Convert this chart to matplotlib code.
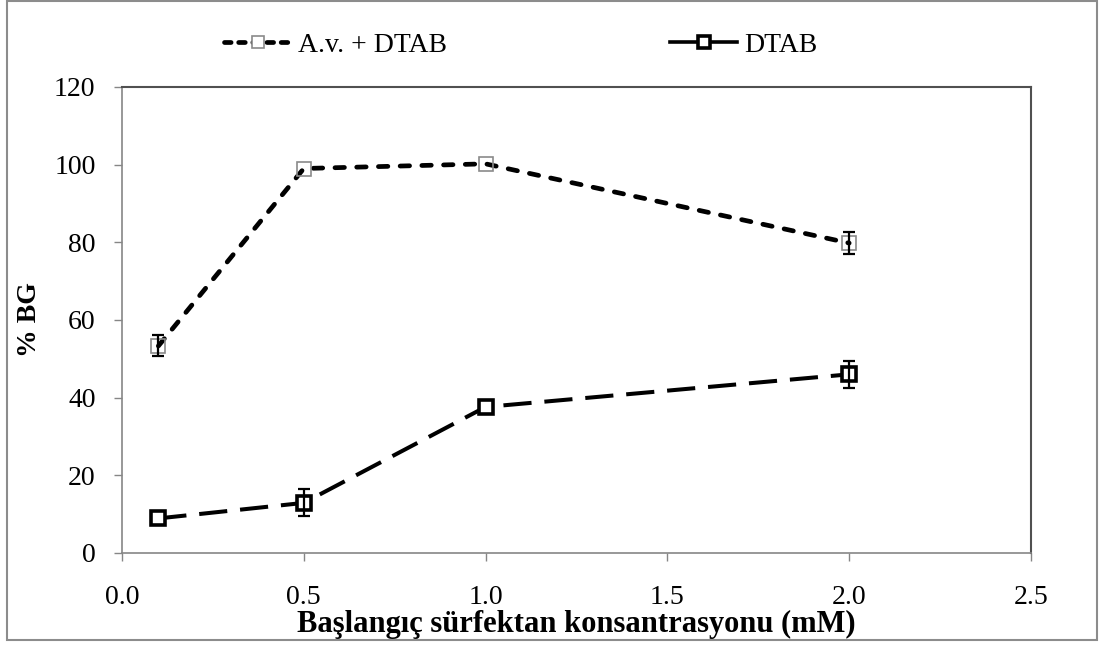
import matplotlib
matplotlib.use("Agg")
import matplotlib.pyplot as plt
from matplotlib.lines import Line2D
from matplotlib.patches import Rectangle
from matplotlib.ticker import FormatStrFormatter

# concentration (mM)
conc = [0.1, 0.5, 1.0, 2.0]
# % BG, A.v. + DTAB
av_dtab = [53.3, 99.0, 100.2, 79.8]
av_dtab_err = [2.7, 0.0, 0.0, 2.8]
# % BG, DTAB alone
dtab = [8.9, 12.9, 37.6, 46.0]
dtab_err = [0.0, 3.5, 0.0, 3.4]

labels = ["A.v. + DTAB", "DTAB"]

plt.rcParams["font.family"] = ["Liberation Serif", "DejaVu Serif"]


def draw_err(ax, xs, ys, errs):
    # only the points that show a visible bar
    pts = [(x, y, e) for x, y, e in zip(xs, ys, errs) if e > 0]
    ax.errorbar([p[0] for p in pts], [p[1] for p in pts],
                yerr=[p[2] for p in pts], fmt="none", ecolor="black",
                elinewidth=1.6, capsize=4.5, capthick=1.6, zorder=4)


fig = plt.figure(figsize=(11.01, 6.46), dpi=100)
ax = fig.add_axes([0.1108, 0.144, 0.8256, 0.7214])

# series A: short round dashes, grey open squares
ax.plot(conc, av_dtab, color="black", lw=3.4, dashes=(2.0, 2.6),
        dash_capstyle="round", zorder=2)
ax.plot(conc, av_dtab, ls="none", marker="s", ms=9.5, mfc="none",
        mec="#8a8a8a", mew=1.2, zorder=3)
draw_err(ax, conc, av_dtab, av_dtab_err)

# series B: long dashes, black open squares
ax.plot(conc, dtab, color="black", lw=2.9, dashes=(7.0, 3.2), zorder=2)
ax.plot(conc, dtab, ls="none", marker="s", ms=9.5, mfc="white",
        mec="black", mew=2.6, zorder=3)
draw_err(ax, conc, dtab, dtab_err)

ax.set_xlim(0, 2.5)
ax.set_ylim(0, 120)
ax.set_xticks([0.0, 0.5, 1.0, 1.5, 2.0, 2.5])
ax.set_yticks(range(0, 121, 20))
ax.xaxis.set_major_formatter(FormatStrFormatter("%.1f"))
ax.tick_params(direction="out", length=6, width=1, color="#868686",
               labelsize=20)
ax.tick_params(axis="x", pad=17)
ax.tick_params(axis="y", pad=13)

for side in ("left", "bottom"):
    ax.spines[side].set_color("#868686")
    ax.spines[side].set_linewidth(1.2)
for side in ("top", "right"):
    ax.spines[side].set_color("#505050")
    ax.spines[side].set_linewidth(1.5)

ax.set_xlabel("Başlangıç sürfektan konsantrasyonu (mM)", fontsize=22,
              fontweight="bold", labelpad=0)
ax.set_ylabel("% BG", fontsize=20, fontweight="bold", labelpad=9)

handles = [
    Line2D([], [], color="black", lw=3.4, dashes=(1.4, 1.6),
           dash_capstyle="round", marker="s", ms=9, mfc="white",
           mec="#8a8a8a", mew=1.2),
    Line2D([], [], color="black", lw=2.6, marker="s", ms=9, mfc="white",
           mec="black", mew=2.6),
]
fig.legend(handles, labels, loc="center", bbox_to_anchor=(0.473, 0.93),
           ncol=2, frameon=False, fontsize=20, handlelength=2.4,
           handletextpad=0.25, columnspacing=8.05)

# outer chart border
fig.patches.append(Rectangle((0.0064, 0.0093), 0.99, 0.989,
                             transform=fig.transFigure, fill=False,
                             edgecolor="#8c8c8c", lw=1.5))

fig.savefig("out.png", dpi=100)
